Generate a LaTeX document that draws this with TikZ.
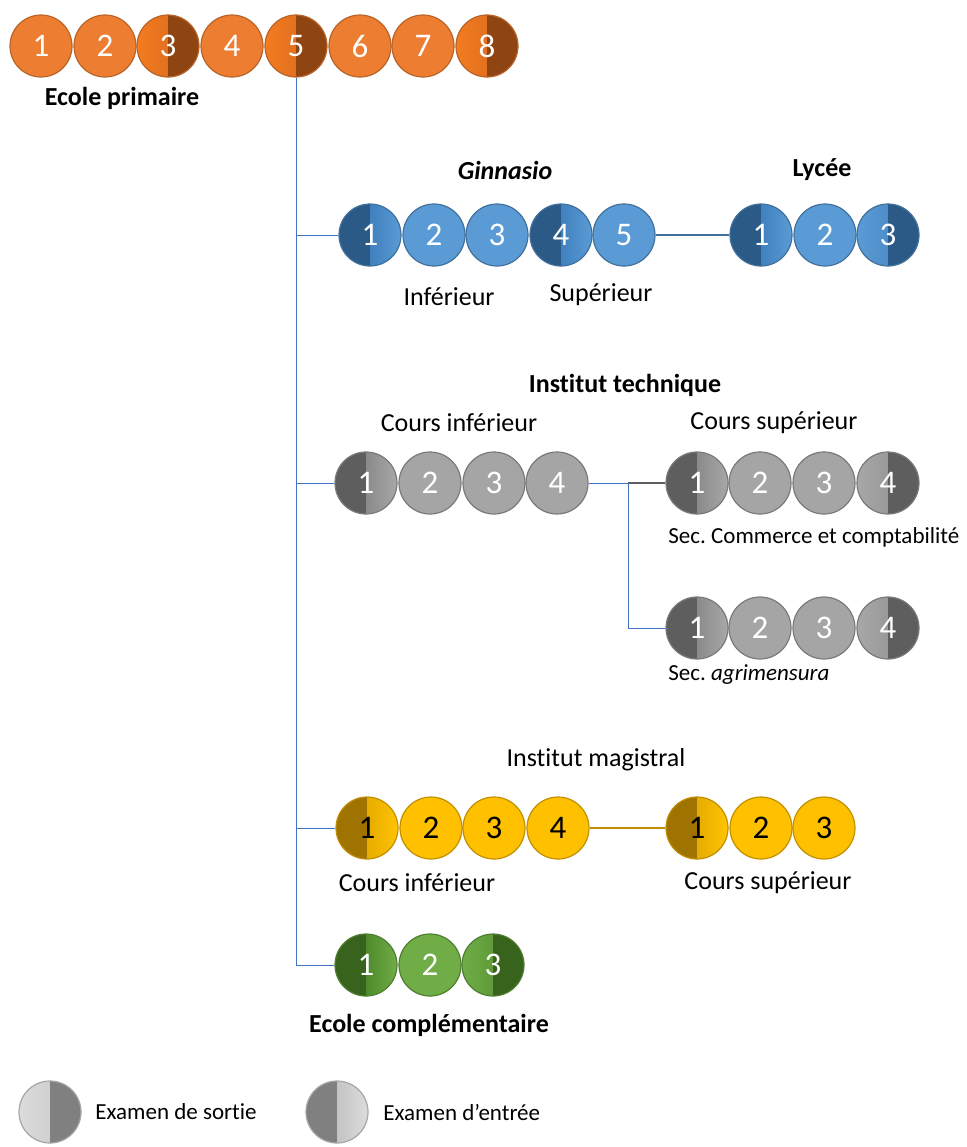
\documentclass[tikz,border=0pt]{standalone}
\usepackage{fontspec}
\setmainfont{Carlito}[Ligatures=NoCommon]
\usetikzlibrary{positioning}

% couleurs des filières
\definecolor{or}{HTML}{ED7D31}
\definecolor{orlight}{HTML}{F47C20}
\definecolor{ormid}{HTML}{D0641E}
\definecolor{ordark}{HTML}{8F4512}
\definecolor{orline}{HTML}{B8642A}
\definecolor{bl}{HTML}{5B9BD5}
\definecolor{bllight}{HTML}{5B9BD5}
\definecolor{blmid}{HTML}{3F80BE}
\definecolor{bldark}{HTML}{2C5A86}
\definecolor{blline}{HTML}{41719C}
\definecolor{gr}{HTML}{A5A5A5}
\definecolor{grlight}{HTML}{A8A8A8}
\definecolor{grmid}{HTML}{8A8A8A}
\definecolor{grdark}{HTML}{5E5E5E}
\definecolor{grline}{HTML}{7A7A7A}
\definecolor{go}{HTML}{FFC000}
\definecolor{golight}{HTML}{FFC400}
\definecolor{gomid}{HTML}{E6AC00}
\definecolor{godark}{HTML}{9E7300}
\definecolor{goline}{HTML}{C09000}
\definecolor{gn}{HTML}{70AD47}
\definecolor{gnlight}{HTML}{70AD47}
\definecolor{gnmid}{HTML}{4E8A2A}
\definecolor{gndark}{HTML}{38631C}
\definecolor{gnline}{HTML}{507E32}
\definecolor{lg}{HTML}{D9D9D9}
\definecolor{lglight}{HTML}{DCDCDC}
\definecolor{lgmid}{HTML}{C4C4C4}
\definecolor{lgdark}{HTML}{808080}
\definecolor{lgline}{HTML}{A6A6A6}
\definecolor{trait}{HTML}{4472C4}

\begin{document}
\begin{tikzpicture}[x=0.5pt,y=-0.5pt,
	annee/.style={circle,draw=#1line,fill=#1,line width=0.6pt,minimum size=31pt,inner sep=0pt,
		text=white,font=\fontsize{16.5}{16.5}\selectfont},
	entree/.style={path picture={
		\fill[#1dark] (path picture bounding box.south west) rectangle (path picture bounding box.north);
		\shade[left color=#1mid,right color=#1light] (path picture bounding box.south) rectangle (path picture bounding box.north east);}},
	sortie/.style={path picture={
		\shade[left color=#1light,right color=#1mid] (path picture bounding box.south west) rectangle (path picture bounding box.north);
		\fill[#1dark] (path picture bounding box.south) rectangle (path picture bounding box.north east);}},
	titre/.style={font=\fontsize{13}{15}\selectfont\bfseries},
	legende/.style={font=\fontsize{13}{15}\selectfont},
	petit/.style={font=\fontsize{11.5}{14}\selectfont},
	trait/.style={draw=trait,line width=0.5pt}]
	\useasboundingbox (0,0) rectangle (966,1147);
	% ecole primaire
	\node[annee=or] (p1) at (41,46) {1};
	\node[annee=or] (p2) at (105,46) {2};
	\node[annee=or,sortie=or] (p3) at (168,46) {3};
	\node[annee=or] (p4) at (232,46) {4};
	\node[annee=or,sortie=or] (p5) at (296,46) {5};
	\node[annee=or] (p6) at (360,46) {6};
	\node[annee=or] (p7) at (423,46) {7};
	\node[annee=or,sortie=or] (p8) at (487,46) {8};
	\node[titre] (tprim) at (122,98) {Ecole primaire};
	% ginnasio et lycee
	\node[annee=bl,entree=bl] (g1) at (370,235) {1};
	\node[annee=bl] (g2) at (434,235) {2};
	\node[annee=bl] (g3) at (497,235) {3};
	\node[annee=bl,entree=bl] (g4) at (561,235) {4};
	\node[annee=bl] (g5) at (624,235) {5};
	\node[annee=bl,entree=bl] (l1) at (761,235) {1};
	\node[annee=bl] (l2) at (825,235) {2};
	\node[annee=bl,sortie=bl] (l3) at (888,235) {3};
	\node[titre,font=\fontsize{13}{15}\selectfont\bfseries\itshape] (tginn) at (505,170) {Ginnasio};
	\node[titre] (tlyc) at (822,170) {Lycée};
	\node[legende] (tinf) at (449,297) {Inférieur};
	\node[legende] (tsup) at (601,295) {Supérieur};
	% institut technique
	\node[titre] (ttech) at (625,385) {Institut technique};
	\node[legende] (ttinf) at (459,423) {Cours inférieur};
	\node[legende] (ttsup) at (774,423) {Cours supérieur};
	\node[annee=gr,entree=gr] (ti1) at (366,483) {1};
	\node[annee=gr] (ti2) at (430,483) {2};
	\node[annee=gr] (ti3) at (494,483) {3};
	\node[annee=gr] (ti4) at (557,483) {4};
	\node[annee=gr,entree=gr] (ts1) at (697,483) {1};
	\node[annee=gr] (ts2) at (760,483) {2};
	\node[annee=gr] (ts3) at (824,483) {3};
	\node[annee=gr,sortie=gr] (ts4) at (888,483) {4};
	\node[petit,anchor=west,inner sep=0pt] (tcomm) at (668,537) {Sec.\ Commerce et comptabilité};
	\node[annee=gr,entree=gr] (ta1) at (697,628) {1};
	\node[annee=gr] (ta2) at (760,628) {2};
	\node[annee=gr] (ta3) at (824,628) {3};
	\node[annee=gr,sortie=gr] (ta4) at (888,628) {4};
	\node[petit,anchor=west,inner sep=0pt] (tagri) at (668,675) {Sec.\ \textit{agrimensura}};
	\coordinate (jt) at (628,483);
	% institut magistral
	\node[legende] (tmag) at (596,760) {Institut magistral};
	\node[annee=go,entree=go,text=black] (mi1) at (367,828) {1};
	\node[annee=go,text=black] (mi2) at (431,828) {2};
	\node[annee=go,text=black] (mi3) at (494,828) {3};
	\node[annee=go,text=black] (mi4) at (558,828) {4};
	\node[annee=go,entree=go,text=black] (ms1) at (697,828) {1};
	\node[annee=go,text=black] (ms2) at (761,828) {2};
	\node[annee=go,text=black] (ms3) at (824,828) {3};
	\node[legende] (tminf) at (417,883) {Cours inférieur};
	\node[legende] (tmsup) at (768,883) {Cours supérieur};
	% ecole complementaire
	\node[annee=gn,entree=gn] (c1) at (366,965) {1};
	\node[annee=gn] (c2) at (430,965) {2};
	\node[annee=gn,sortie=gn] (c3) at (493,965) {3};
	\node[titre] (tcompl) at (429,1025) {Ecole complémentaire};
	% traits
	\draw[trait] (p5.south) -- (p5.south |- c1.west);
	\draw[trait] (p5.south |- g1.west) -- (g1.west);
	\draw[trait] (p5.south |- ti1.west) -- (ti1.west);
	\draw[trait] (p5.south |- mi1.west) -- (mi1.west);
	\draw[trait] (p5.south |- c1.west) -- (c1.west);
	\draw[draw=blline,line width=0.6pt] (g5.east) -- (l1.west);
	\draw[trait] (ti4.east) -- (jt);
	\draw[draw=grdark,line width=0.6pt] (jt) -- (ts1.west);
	\draw[trait] (jt) |- (ta1.west);
	\draw[draw=goline,line width=0.6pt] (mi4.east) -- (ms1.west);
	% legende
	\node[annee=lg,sortie=lg] (lx1) at (50,1112) {};
	\node[petit,anchor=west,inner sep=0pt] (tlx1) at (95,1112) {Examen de sortie};
	\node[annee=lg,entree=lg] (lx2) at (337,1112) {};
	\node[petit,anchor=west,inner sep=0pt] (tlx2) at (383,1112) {Examen d’entrée};
\end{tikzpicture}
\end{document}
